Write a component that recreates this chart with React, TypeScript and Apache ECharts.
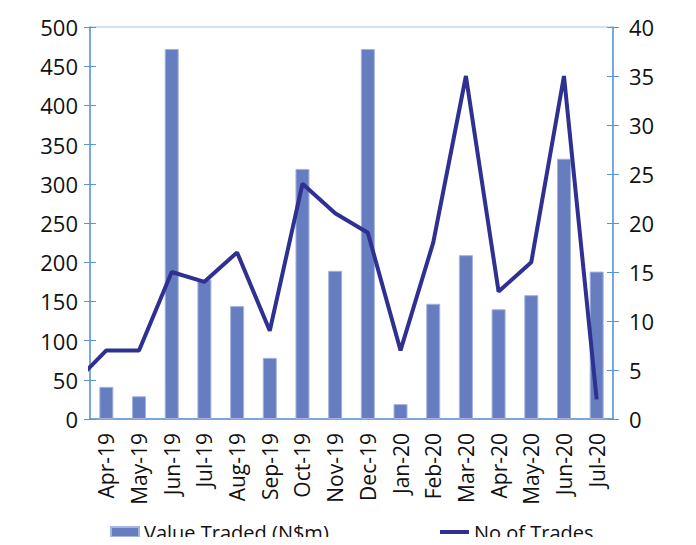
import React, { useEffect, useRef } from "react";
import * as echarts from "echarts";

const categories = ["Apr-19","May-19","Jun-19","Jul-19","Aug-19","Sep-19","Oct-19","Nov-19","Dec-19","Jan-20","Feb-20","Mar-20","Apr-20","May-20","Jun-20","Jul-20"];
const valueTraded = [41, 29, 472, 178, 144, 78, 319, 189, 472, 19, 147, 209, 140, 158, 332, 188];
const noOfTrades = [7, 7, 15, 14, 17, 9, 24, 21, 19, 7, 18, 35, 13, 16, 35, 2];
// previous month (Mar-19), only partly visible at the left edge
const priorTrades = 3.6;
const leftTicks = [0, 500, 50];
const rightTicks = [0, 40, 5];

const FONT = "'Open Sans', sans-serif";
const AXIS = "#5b93d8";
const BAR = "#667dc0";
const LINE = "#2e3192";

export default function App() {
  const ref = useRef<HTMLDivElement>(null);
  useEffect(() => {
    const chart = echarts.init(ref.current!, null, { renderer: "svg" });
    const lineData: [number, number][] = [[-1, priorTrades]];
    noOfTrades.forEach((v, i) => lineData.push([i, v]));
    const yBase = (range: number[], pos: "left" | "right") => ({
      type: "value" as const,
      position: pos,
      min: range[0],
      max: range[1],
      interval: range[2],
    });
    const legendText = { fontFamily: FONT, fontSize: 20, color: "#111", lineHeight: 20 };
    chart.setOption({
      animation: false,
      grid: {
        left: 90, right: 83, top: 27, bottom: 126,
        show: true, borderColor: "#a3c4ea", borderWidth: 1,
      },
      legend: [
        {
          top: 522, left: 110, padding: 0, itemWidth: 28, itemHeight: 10, itemGap: 0,
          textStyle: legendText,
          data: [{ name: "Value Traded (N$m)", icon: "rect" }],
        },
        {
          top: 522, left: 440, padding: 0, itemWidth: 29, itemHeight: 4, itemGap: 0,
          textStyle: legendText,
          data: [{ name: "No of Trades", icon: "path://M0,0 L29,0 L29,4 L0,4 Z", itemStyle: { color: LINE } }],
        },
      ],
      xAxis: [
        {
          type: "category",
          data: categories,
          axisLine: { lineStyle: { color: AXIS, width: 1.5 } },
          axisTick: { inside: true, length: 6, lineStyle: { color: AXIS } },
          axisLabel: {
            rotate: 90, margin: 14, interval: 0,
            fontFamily: FONT, fontSize: 21, color: "#111",
          },
        },
        { type: "value", min: -0.5, max: 15.5, show: false },
      ],
      yAxis: [
        {
          ...yBase(leftTicks, "left"),
          axisLine: { show: true, onZero: false, lineStyle: { color: AXIS, width: 1.5 } },
          axisTick: { show: true, length: 6, lineStyle: { color: AXIS } },
          splitLine: { show: false },
          axisLabel: { fontFamily: FONT, fontSize: 22, color: "#111", margin: 12 },
        },
        {
          ...yBase(rightTicks, "right"),
          axisLine: { show: true, onZero: false, lineStyle: { color: AXIS, width: 1.5 } },
          axisTick: { show: true, length: 6, lineStyle: { color: AXIS } },
          splitLine: { show: false },
          axisLabel: { fontFamily: FONT, fontSize: 22, color: "#111", margin: 16 },
        },
        {
          ...yBase(leftTicks, "left"),
          axisLine: { show: false, onZero: false },
          axisTick: { show: true, inside: true, length: 6, lineStyle: { color: AXIS } },
          axisLabel: { show: false },
          splitLine: { show: false },
        },
        {
          ...yBase(rightTicks, "right"),
          axisLine: { show: false, onZero: false },
          axisTick: { show: true, inside: true, length: 6, lineStyle: { color: AXIS } },
          axisLabel: { show: false },
          splitLine: { show: false },
        },
      ],
      series: [
        {
          name: "Value Traded (N$m)",
          type: "bar",
          data: valueTraded,
          barWidth: 14,
          itemStyle: { color: BAR, borderColor: "#a4b3df", borderWidth: 1 },
        },
        {
          name: "No of Trades",
          type: "line",
          xAxisIndex: 1,
          yAxisIndex: 1,
          data: lineData,
          symbol: "none",
          clip: true,
          itemStyle: { color: LINE },
          lineStyle: { color: LINE, width: 4 },
        },
      ],
    });
    return () => chart.dispose();
  }, []);
  return <div ref={ref} style={{ width: 696, height: 545, margin: -8 }} />;
}
